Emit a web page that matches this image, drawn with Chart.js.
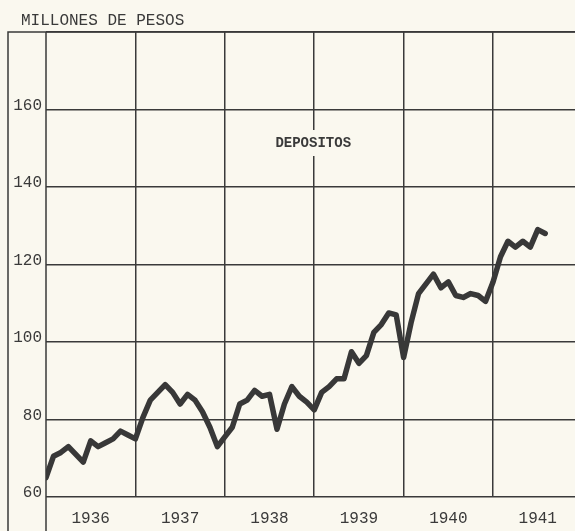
<!DOCTYPE html>
<html>
<head>
<meta charset="utf-8">
<script src="https://cdn.jsdelivr.net/npm/chart.js@4"></script>
<style>
    html, body { margin: 0; padding: 0; background: #faf8ef; }
    #wrap { width: 575px; height: 531px; }
</style>
</head>
<body>
<div id="wrap"><canvas id="chart" width="575" height="531"></canvas></div>
<script>
// monthly deposits, millions of pesos
const years = ['1936', '1937', '1938', '1939', '1940', '1941'];
const deposits1936 = [65, 70.5, 71.5, 73, 71, 69, 74.5, 73, 74, 75, 77, 76];
const deposits1937 = [75, 80.5, 85, 87, 89, 87, 84, 86.5, 85, 82, 78, 73];
const deposits1938 = [75.5, 78, 84, 85, 87.5, 86, 86.5, 77.5, 84, 88.5, 86, 84.5];
const deposits1939 = [82.5, 87, 88.5, 90.5, 90.5, 97.5, 94.5, 96.5, 102.5, 104.5, 107.5, 107];
const deposits1940 = [96, 105, 112.5, 115, 117.5, 114, 115.5, 112, 111.5, 112.5, 112, 110.5];
const deposits1941 = [115.5, 122, 126, 124.5, 126, 124.5, 129, 128];
const yTicks = [60, 80, 100, 120, 140, 160, 180];
const unitLabel = 'MILLONES DE PESOS';
const seriesLabel = 'DEPOSITOS';

const ink = '#3a3a3a';
const paper = '#faf8ef';
const monoFont = "'Liberation Mono', 'DejaVu Sans Mono', monospace";

const points = [];
[deposits1936, deposits1937, deposits1938, deposits1939, deposits1940, deposits1941].forEach((arr, yi) => {
    arr.forEach((v, mi) => points.push({ x: yi * 12 + mi, y: v }));
});

const paperFrame = {
    id: 'paperFrame',
    beforeDraw(chart) {
        const ctx = chart.ctx;
        ctx.save();
        ctx.fillStyle = paper;
        ctx.fillRect(0, 0, chart.width, chart.height);
        ctx.restore();
    },
    afterDraw(chart) {
        const ctx = chart.ctx;
        const area = chart.chartArea;
        ctx.save();
        ctx.strokeStyle = ink;
        ctx.lineWidth = 1.5;
        ctx.beginPath();
        // outer frame
        ctx.moveTo(8, chart.height);
        ctx.lineTo(8, area.top);
        ctx.lineTo(chart.width, area.top);
        // left edge of the plot runs down through the year labels
        ctx.moveTo(area.left, area.top);
        ctx.lineTo(area.left, chart.height);
        ctx.stroke();

        ctx.fillStyle = ink;
        ctx.font = '16px ' + monoFont;
        ctx.textAlign = 'left';
        ctx.textBaseline = 'middle';
        ctx.fillText(unitLabel, 21, 21);

        // series label sits in a gap of the 1939 grid line
        const lx = chart.scales.x.getPixelForValue(36) - 1;
        const ly = area.top + 111;
        ctx.fillStyle = paper;
        ctx.fillRect(lx - 46, ly - 13, 92, 26);
        ctx.fillStyle = ink;
        ctx.font = 'bold 14px ' + monoFont;
        ctx.textAlign = 'center';
        ctx.fillText(seriesLabel, lx, ly);
        ctx.restore();
    }
};

new Chart(document.getElementById('chart').getContext('2d'), {
    type: 'line',
    data: {
        datasets: [{
            label: seriesLabel,
            data: points,
            borderColor: '#383838',
            borderWidth: 5.5,
            pointRadius: 0,
            tension: 0,
            borderJoinStyle: 'round',
            borderCapStyle: 'round',
            fill: false,
        }]
    },
    options: {
        responsive: false,
        animation: false,
        devicePixelRatio: 1,
        layout: { padding: { top: 32, left: 0, right: 0, bottom: 0 } },
        plugins: {
            legend: { display: false },
            tooltip: { enabled: false },
        },
        scales: {
            x: {
                type: 'linear',
                min: 0,
                max: 71,
                afterBuildTicks: (scale) => {
                    const ticks = [];
                    years.forEach((y, i) => {
                        ticks.push({ value: i * 12 });
                        ticks.push({ value: i * 12 + 6 });
                    });
                    scale.ticks = ticks;
                },
                afterFit: (scale) => { scale.height = 34; },
                border: { display: false },
                grid: {
                    drawTicks: false,
                    lineWidth: 1.5,
                    color: (c) => (c.tick && c.tick.value % 12 === 0 && c.tick.value > 0) ? ink : 'rgba(0,0,0,0)',
                },
                ticks: {
                    autoSkip: false,
                    maxRotation: 0,
                    padding: 12,
                    color: ink,
                    font: { family: monoFont, size: 16 },
                    callback: (v) => v % 12 === 6 ? years[(v - 6) / 12] : '',
                },
            },
            y: {
                min: yTicks[0],
                max: yTicks[yTicks.length - 1],
                afterBuildTicks: (scale) => {
                    scale.ticks = yTicks.map(v => ({ value: v }));
                },
                afterFit: (scale) => { scale.width = 46; },
                border: { display: false },
                grid: {
                    drawTicks: false,
                    lineWidth: 1.5,
                    color: ink,
                },
                ticks: {
                    padding: 4,
                    labelOffset: -4,
                    color: ink,
                    font: { family: monoFont, size: 16 },
                    callback: (v) => v === 180 ? '' : v,
                },
            },
        },
    },
    plugins: [paperFrame],
});
</script>
</body>
</html>
